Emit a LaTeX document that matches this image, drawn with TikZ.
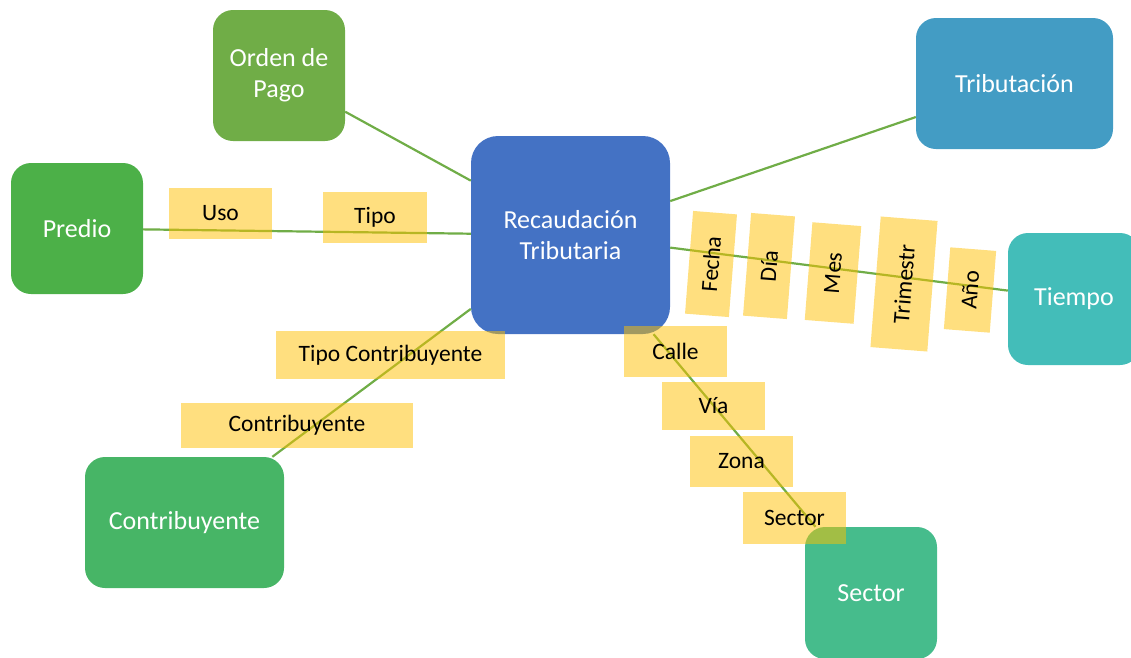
\documentclass[tikz,border=0pt]{standalone}
\usepackage{fontspec}
\setmainfont{Carlito}
\definecolor{linkgreen}{RGB}{112,173,71}
\definecolor{attryellow}{RGB}{255,192,0}
\definecolor{cOrden}{RGB}{112,173,71}
\definecolor{cTrib}{RGB}{67,156,196}
\definecolor{cRec}{RGB}{68,114,196}
\definecolor{cPredio}{RGB}{76,176,72}
\definecolor{cTiempo}{RGB}{67,189,185}
\definecolor{cContrib}{RGB}{71,181,102}
\definecolor{cSector}{RGB}{70,188,140}
\begin{document}
\begin{tikzpicture}[x=1pt,y=-1pt,
  entity/.style={rectangle, rounded corners=20pt, inner sep=0pt, text=white,
    align=center, font=\fontsize{26}{31}\selectfont},
  link/.style={draw=linkgreen, line width=2.2pt},
  attr/.style={rectangle, fill=attryellow, fill opacity=0.5, text opacity=1,
    inner sep=0pt, font=\fontsize{23.5}{28}\selectfont},
  vattr/.style={attr, rotate=85.5},
]
\useasboundingbox (0,0) rectangle (1131,657);

% entities
\node[entity, fill=cRec, rounded corners=27pt, minimum width=199pt, minimum height=198pt] (rec) at (570.5,235) {Recaudación\\Tributaria};
\node[entity, fill=cOrden, minimum width=132pt, minimum height=131pt] (orden) at (279,75.5) {Orden de\\Pago};
\node[entity, fill=cTrib, minimum width=197pt, minimum height=131pt] (trib) at (1014.5,83.5) {Tributación};
\node[entity, fill=cPredio, minimum width=132pt, minimum height=131pt] (predio) at (77,228.5) {Predio};
\node[entity, fill=cTiempo, minimum width=132pt, minimum height=132pt] (tiempo) at (1074,299) {Tiempo};
\node[entity, fill=cContrib, minimum width=199pt, minimum height=131pt] (contrib) at (184.5,522.5) {Contribuyente};
\node[entity, fill=cSector, minimum width=132pt, minimum height=132pt] (sector) at (871,593) {Sector};

% links
\draw[link] (orden) -- (rec);
\draw[link] (rec) -- (trib);
\draw[link] (predio) -- (rec);
\draw[link] (rec) -- (tiempo);
\draw[link] (rec) -- (contrib);
\draw[link] (rec) -- (sector);

% attribute labels
\node[attr, minimum width=103pt, minimum height=51pt] (uso) at (220.5,213.5) {Uso};
\node[attr, minimum width=104pt, minimum height=51pt] (tipo) at (375,217.5) {Tipo};
\node[attr, minimum width=229pt, minimum height=48pt] (tipoc) at (390.5,355) {Tipo Contribuyente};
\node[attr, minimum width=232pt, minimum height=45pt] (contribl) at (297,425.5) {Contribuyente};
\node[attr, minimum width=103pt, minimum height=51pt] (calle) at (675.5,351.5) {Calle};
\node[attr, minimum width=103pt, minimum height=48pt] (via) at (713.5,406) {Vía};
\node[attr, minimum width=103pt, minimum height=51pt] (zona) at (741.5,461.5) {Zona};
\node[attr, minimum width=103pt, minimum height=52pt] (sectorl) at (794.5,518) {Sector};

\node[vattr, minimum width=103pt, minimum height=44pt] (fecha) at (711,264) {Fecha};
\node[vattr, minimum width=103pt, minimum height=44pt] (dia) at (769,266) {Día};
\node[vattr, minimum width=98pt, minimum height=49pt] (mes) at (833,273) {Mes};
\node[vattr, minimum width=131pt, minimum height=57pt] (trim) at (904,284) {Trimestr};
\node[vattr, minimum width=82pt, minimum height=46pt] (anio) at (970,290) {Año};
\end{tikzpicture}
\end{document}
